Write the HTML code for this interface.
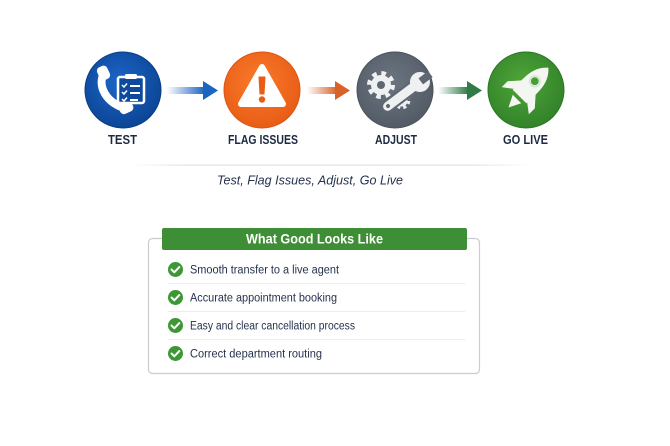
<!DOCTYPE html>
<html><head><meta charset="utf-8"><style>
html,body{margin:0;padding:0;background:#fff;}
svg{display:block;font-family:"Liberation Sans",sans-serif;}
</style></head><body>
<svg width="670" height="446" viewBox="0 0 670 446" xmlns="http://www.w3.org/2000/svg">
<defs>
<radialGradient id="gb" cx="45%" cy="40%" r="60%"><stop offset="0" stop-color="#1c66c8"/><stop offset="1" stop-color="#0c4596"/></radialGradient>
<radialGradient id="go" cx="45%" cy="40%" r="60%"><stop offset="0" stop-color="#fb7a2a"/><stop offset="1" stop-color="#e85d16"/></radialGradient>
<radialGradient id="gg" cx="45%" cy="40%" r="60%"><stop offset="0" stop-color="#6b7580"/><stop offset="1" stop-color="#535c66"/></radialGradient>
<radialGradient id="gr" cx="45%" cy="40%" r="60%"><stop offset="0" stop-color="#4fa538"/><stop offset="1" stop-color="#32832a"/></radialGradient>
<linearGradient id="ab" x1="0" x2="1"><stop offset="0" stop-color="#1b64c0" stop-opacity="0"/><stop offset="1" stop-color="#1b64c0"/></linearGradient>
<linearGradient id="ao" x1="0" x2="1"><stop offset="0" stop-color="#d9622b" stop-opacity="0"/><stop offset="1" stop-color="#d9622b"/></linearGradient>
<linearGradient id="ag" x1="0" x2="1"><stop offset="0" stop-color="#2f7d45" stop-opacity="0"/><stop offset="1" stop-color="#2f7d45"/></linearGradient>
<linearGradient id="ln" x1="0" x2="1"><stop offset="0" stop-color="#e0e0e0" stop-opacity="0"/><stop offset="0.15" stop-color="#e0e0e0"/><stop offset="0.85" stop-color="#e0e0e0"/><stop offset="1" stop-color="#e0e0e0" stop-opacity="0"/></linearGradient>
</defs>

<!-- TEST -->
<circle cx="123" cy="90" r="38" fill="url(#gb)" stroke="#0a3a85" stroke-width="1"/>
<path d="M104,73 C97,86 106,102 124,108" fill="none" stroke="#fff" stroke-width="8" stroke-linecap="round"/>
<rect x="98" y="66" width="11" height="14" rx="4" transform="rotate(-25 103.5 73)" fill="#fff"/>
<rect x="119" y="102" width="14" height="11" rx="4" transform="rotate(-25 126 107.5)" fill="#fff"/>
<rect x="118" y="77" width="26" height="26" rx="2" fill="#0d4a9e" stroke="#fff" stroke-width="2.5"/>
<rect x="125" y="74" width="12" height="5" rx="1.5" fill="#fff"/>
<path d="M122,85 l2,2 l3,-3.5 M122,92 l2,2 l3,-3.5 M122,99 l2,2 l3,-3.5" fill="none" stroke="#fff" stroke-width="1.5"/>
<path d="M130,86 h10 M130,93 h10 M130,100 h8" stroke="#fff" stroke-width="2"/>

<!-- arrow 1 -->
<rect x="167" y="87" width="38" height="7" fill="url(#ab)"/>
<polygon points="203,81 218,90.5 203,100" fill="#1b64c0"/>

<!-- FLAG -->
<circle cx="262" cy="90" r="38" fill="url(#go)" stroke="#d95414" stroke-width="1"/>
<polygon points="262,67 241,104 283,104" fill="#fff" stroke="#fff" stroke-width="6" stroke-linejoin="round"/>
<path d="M259,77 h6 l-1,17 h-4 z" fill="#e85d16" stroke="#e85d16" stroke-width="1" stroke-linejoin="round"/>
<circle cx="262" cy="99.5" r="3.2" fill="#e85d16"/>

<!-- arrow 2 -->
<rect x="307" y="87" width="30" height="7" fill="url(#ao)"/>
<polygon points="335,81 350,90.5 335,100" fill="#d9622b"/>

<!-- ADJUST -->
<circle cx="395" cy="90" r="38" fill="url(#gg)" stroke="#4a525b" stroke-width="1"/>
<circle cx="381" cy="85" r="11.5" fill="none" stroke="#eef0f2" stroke-width="5" stroke-dasharray="4.5 4.53"/>
<circle cx="381" cy="85" r="10" fill="#eef0f2"/>
<circle cx="381" cy="85" r="4" fill="#5f6872"/>
<circle cx="402" cy="101" r="6.5" fill="none" stroke="#eef0f2" stroke-width="3.5" stroke-dasharray="3 2.9"/>
<circle cx="402" cy="101" r="5.5" fill="#eef0f2"/>
<g transform="translate(404,94) rotate(-37)">
<rect x="-26" y="-5.5" width="42" height="11" rx="5.5" fill="#eef0f2" stroke="#5f6872" stroke-width="2"/>
<circle cx="20" cy="0" r="10" fill="#eef0f2"/>
<rect x="21" y="-3.8" width="12" height="7.6" fill="#5f6872"/>
<circle cx="-20" cy="0" r="2" fill="#5f6872"/>
</g>

<!-- arrow 3 -->
<rect x="438" y="87" width="30" height="7" fill="url(#ag)"/>
<polygon points="467,81 482,90.5 467,100" fill="#2f7d45"/>

<!-- GO LIVE -->
<circle cx="526" cy="90" r="38" fill="url(#gr)" stroke="#2c7524" stroke-width="1"/>
<g transform="translate(528,88) rotate(45) scale(1.2)">
<path d="M0,-24 C9,-16 9,-6 8,10 L-8,10 C-9,-6 -9,-16 0,-24 Z" fill="#f4f6f2"/>
<circle cx="0" cy="-8" r="4.5" fill="#f4f6f2" stroke="#cfe3c6" stroke-width="1"/>
<circle cx="0" cy="-8" r="3.3" fill="#4a9e36"/>
<path d="M-8,-1 L-16,8 L-16,15 L-8,9 Z" fill="#f4f6f2"/>
<path d="M8,-1 L16,8 L16,15 L8,9 Z" fill="#f4f6f2"/>
<path d="M-5,13 L0,23 L5,13 Z" fill="#f4f6f2"/>
</g>

<!-- labels -->
<g fill="#1e2a44" font-weight="bold" font-size="12.5">
<text x="108" y="144" textLength="29" lengthAdjust="spacingAndGlyphs">TEST</text>
<text x="228" y="144" textLength="70" lengthAdjust="spacingAndGlyphs">FLAG ISSUES</text>
<text x="375" y="144" textLength="42" lengthAdjust="spacingAndGlyphs">ADJUST</text>
<text x="503" y="144" textLength="45" lengthAdjust="spacingAndGlyphs">GO LIVE</text>
</g>

<rect x="130" y="164.5" width="400" height="1.2" fill="url(#ln)"/>
<text x="217" y="184.5" font-size="13" font-style="italic" fill="#26324d" textLength="186" lengthAdjust="spacingAndGlyphs">Test, Flag Issues, Adjust, Go Live</text>

<!-- box -->
<rect x="148.5" y="238.5" width="331" height="135" rx="4" fill="#fff" stroke="#c9ccd1" stroke-width="1.2"/>
<rect x="162" y="228" width="305" height="22" rx="2" fill="#3e8e35"/>
<text x="246" y="243.5" font-size="13.5" font-weight="bold" fill="#fff" textLength="137" lengthAdjust="spacingAndGlyphs">What Good Looks Like</text>

<g stroke="#ebedf0" stroke-width="1">
<line x1="168" y1="283.5" x2="465" y2="283.5"/>
<line x1="168" y1="311.5" x2="465" y2="311.5"/>
<line x1="168" y1="339.5" x2="465" y2="339.5"/>
</g>

<g>
<circle cx="175.5" cy="269.5" r="7.5" fill="#3f9637"/>
<circle cx="175.5" cy="297.5" r="7.5" fill="#3f9637"/>
<circle cx="175.5" cy="325.5" r="7.5" fill="#3f9637"/>
<circle cx="175.5" cy="353.5" r="7.5" fill="#3f9637"/>
<path d="M171.5,269.5 l2.8,2.8 l5,-5.2 M171.5,297.5 l2.8,2.8 l5,-5.2 M171.5,325.5 l2.8,2.8 l5,-5.2 M171.5,353.5 l2.8,2.8 l5,-5.2" fill="none" stroke="#fff" stroke-width="2" stroke-linecap="round" stroke-linejoin="round"/>
</g>

<g fill="#26324d" font-size="11.5">
<text x="190" y="273.5" textLength="149" lengthAdjust="spacingAndGlyphs">Smooth transfer to a live agent</text>
<text x="190" y="301.5" textLength="147" lengthAdjust="spacingAndGlyphs">Accurate appointment booking</text>
<text x="190" y="329.5" textLength="165" lengthAdjust="spacingAndGlyphs">Easy and clear cancellation process</text>
<text x="190" y="357.5" textLength="132" lengthAdjust="spacingAndGlyphs">Correct department routing</text>
</g>
</svg>
</body></html>
